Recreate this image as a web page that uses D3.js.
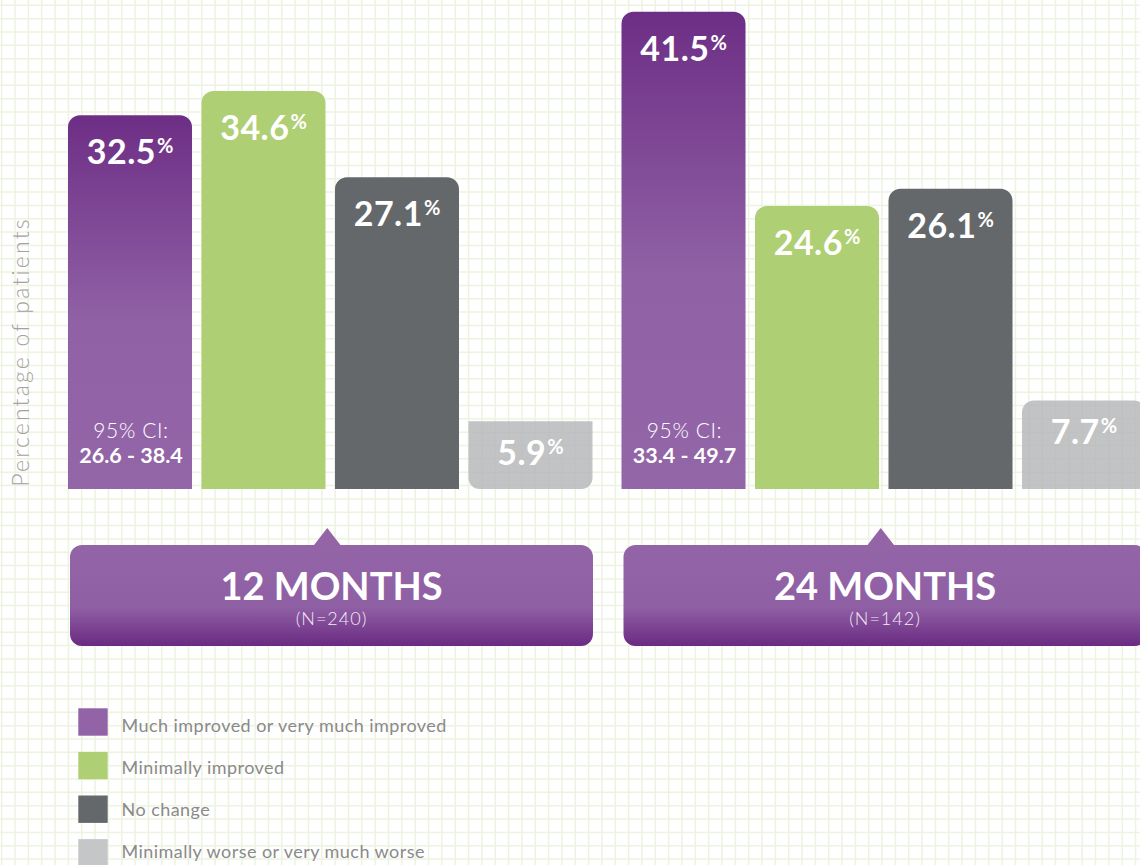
<!DOCTYPE html>
<html>
<head>
<meta charset="utf-8">
<script src="https://cdn.jsdelivr.net/npm/d3@7"></script>
<style>
  body { margin: 0; background: #fff; }
  svg { display: block; font-family: Lato, "Open Sans", sans-serif; }
</style>
</head>
<body>
<div id="chart"></div>
<script>
// data
const groups = ["12 MONTHS", "24 MONTHS"];
const groupN = ["(N=240)", "(N=142)"];
const categories = [
    "Much improved or very much improved",
    "Minimally improved",
    "No change",
    "Minimally worse or very much worse"
];
const values12 = [32.5, 34.6, 27.1, 5.9];
const values24 = [41.5, 24.6, 26.1, 7.7];
const ciLabels = ["26.6 - 38.4", "33.4 - 49.7"];
const yLabel = "Percentage of patients";

const W = 1140, H = 865;
const colors = ["#9263a6", "#afcf74", "#65686b", "#b4b6b8"];
const legendColors = ["#9263a6", "#afcf74", "#65686b", "#c4c6c8"];

const svg = d3.select("#chart").append("svg")
    .attr("width", W)
    .attr("height", H);

const defs = svg.append("defs");
const barGrad = defs.append("linearGradient")
    .attr("id", "barGrad").attr("x1", 0).attr("y1", 0).attr("x2", 0).attr("y2", 1);
barGrad.append("stop").attr("offset", "0%").attr("stop-color", "#6d2e85");
barGrad.append("stop").attr("offset", "55%").attr("stop-color", "#9061a5");
barGrad.append("stop").attr("offset", "100%").attr("stop-color", "#9366a8");

const boxGrad = defs.append("linearGradient")
    .attr("id", "boxGrad").attr("x1", 0).attr("y1", 0).attr("x2", 0).attr("y2", 1);
boxGrad.append("stop").attr("offset", "0%").attr("stop-color", "#9365a7");
boxGrad.append("stop").attr("offset", "62%").attr("stop-color", "#8f5fa4");
boxGrad.append("stop").attr("offset", "100%").attr("stop-color", "#6a2a82");

// background grid paper
svg.append("rect").attr("width", W).attr("height", H).attr("fill", "#fff");
const gridStep = 13.34;
const grid = svg.append("g").attr("stroke", "#edf3e1").attr("stroke-width", 1.5);
grid.selectAll("line.v").data(d3.range(1.66, W, gridStep)).join("line")
    .attr("class", "v")
    .attr("x1", d => d).attr("x2", d => d).attr("y1", 0).attr("y2", H);
grid.selectAll("line.h").data(d3.range(5.3, H, gridStep)).join("line")
    .attr("class", "h")
    .attr("y1", d => d).attr("y2", d => d).attr("x1", 0).attr("x2", W);

// scales
const x0 = d3.scaleBand().domain(groups).range([68, 1146]).paddingInner(0.0524).paddingOuter(0);
const x1 = d3.scaleBand().domain(categories).range([0, x0.bandwidth()]).paddingInner(0.071).paddingOuter(0);
const y = d3.scaleLinear().domain([0, 42.52]).range([489, 0]);

// bar with optional rounded top / bottom
function barPath(x, yTop, w, h, rt, rb) {
    const p = d3.path();
    p.moveTo(x, yTop + rt);
    if (rt) p.arcTo(x, yTop, x + rt, yTop, rt); else p.lineTo(x, yTop);
    p.lineTo(x + w - rt, yTop);
    if (rt) p.arcTo(x + w, yTop, x + w, yTop + rt, rt); else p.lineTo(x + w, yTop);
    p.lineTo(x + w, yTop + h - rb);
    if (rb) p.arcTo(x + w, yTop + h, x + w - rb, yTop + h, rb); else p.lineTo(x + w, yTop + h);
    p.lineTo(x + rb, yTop + h);
    if (rb) p.arcTo(x, yTop + h, x, yTop + h - rb, rb); else p.lineTo(x, yTop + h);
    p.closePath();
    return p.toString();
}

const series = [values12, values24];

groups.forEach(function (g, gi) {
    const gx = x0(g);
    const vals = series[gi];
    const grp = svg.append("g").attr("transform", "translate(" + gx + ",0)");

    vals.forEach(function (v, ci) {
        const c = categories[ci];
        const bx = x1(c), bw = x1.bandwidth();
        const top = y(v), h = y(0) - y(v);
        // the light bars are drawn a bit differently in the two groups
        let rt = 12, rb = 0;
        if (ci === 3 && gi === 0) { rt = 0; rb = 11; }
        grp.append("path")
            .attr("d", barPath(bx, top, bw, h, rt, rb))
            .attr("fill", ci === 0 ? "url(#barGrad)" : colors[ci])
            .attr("fill-opacity", ci === 3 ? 0.82 : 1);

        const off = h > 150 ? 49 : 44;
        const t = grp.append("text")
            .attr("x", bx + bw / 2)
            .attr("y", top + off)
            .attr("text-anchor", "middle")
            .attr("fill", "#fff")
            .attr("font-weight", 700);
        t.append("tspan").attr("font-size", "34px").attr("letter-spacing", "0.5px").text(v.toFixed(1));
        t.append("tspan").attr("font-size", "20px").attr("dx", 1).attr("dy", -11).text("%");

        if (ci === 0) {
            grp.append("text")
                .attr("x", bx + bw / 2 + 1)
                .attr("y", y(0) - 51)
                .attr("text-anchor", "middle")
                .attr("fill", "#fff")
                .attr("font-weight", 300)
                .attr("font-size", "21px")
                .attr("letter-spacing", "0.6px")
                .text("95% CI:");
            grp.append("text")
                .attr("x", bx + bw / 2 + 1)
                .attr("y", y(0) - 26)
                .attr("text-anchor", "middle")
                .attr("fill", "#fff")
                .attr("font-weight", 700)
                .attr("font-size", "21.5px")
                .text(ciLabels[gi]);
        }
    });

    // month box with pointer
    const boxTop = y(0) + 56, boxH = 101;
    const bx0 = 2, bw0 = x0.bandwidth() - 1.5;
    const cx = x0.bandwidth() / 2 - 3;
    grp.append("path")
        .attr("d", "M" + (cx - 14) + "," + (boxTop + 1) + "L" + cx + "," + (boxTop - 17) + "L" + (cx + 14) + "," + (boxTop + 1) + "Z")
        .attr("fill", "#9365a7");
    grp.append("rect")
        .attr("x", bx0).attr("y", boxTop)
        .attr("width", bw0).attr("height", boxH)
        .attr("rx", 12)
        .attr("fill", "url(#boxGrad)");
    grp.append("text")
        .attr("x", bx0 + bw0 / 2)
        .attr("y", boxTop + 55)
        .attr("text-anchor", "middle")
        .attr("fill", "#fff")
        .attr("font-weight", 700)
        .attr("font-size", "38px")
        .text(g);
    grp.append("text")
        .attr("x", bx0 + bw0 / 2)
        .attr("y", boxTop + 80)
        .attr("text-anchor", "middle")
        .attr("fill", "#f2ecf5")
        .attr("font-weight", 300)
        .attr("font-size", "18px")
        .attr("letter-spacing", "1px")
        .text(groupN[gi]);
});

// y axis title
svg.append("text")
    .attr("transform", "translate(29," + (y(0) - 137) + ") rotate(-90)")
    .attr("text-anchor", "middle")
    .attr("fill", "#a2a2a2")
    .attr("font-weight", 300)
    .attr("font-size", "23px")
    .attr("letter-spacing", "2.2px")
    .text(yLabel);

// legend
const ly = d3.scalePoint().domain(categories).range([708.3, 708.3 + 3 * 43.6]);
const lty = d3.scalePoint().domain(categories).range([731.5, 857.5]);
const leg = svg.append("g");
leg.selectAll("rect").data(categories).join("rect")
    .attr("x", 78.3)
    .attr("y", d => ly(d))
    .attr("width", 29.4)
    .attr("height", 27.4)
    .attr("fill", (d, i) => legendColors[i]);
leg.selectAll("text").data(categories).join("text")
    .attr("x", 121.5)
    .attr("y", d => lty(d))
    .attr("fill", "#8a8a8a")
    .attr("font-size", "18px")
    .attr("letter-spacing", "0.45px")
    .text(d => d);
</script>
</body>
</html>
